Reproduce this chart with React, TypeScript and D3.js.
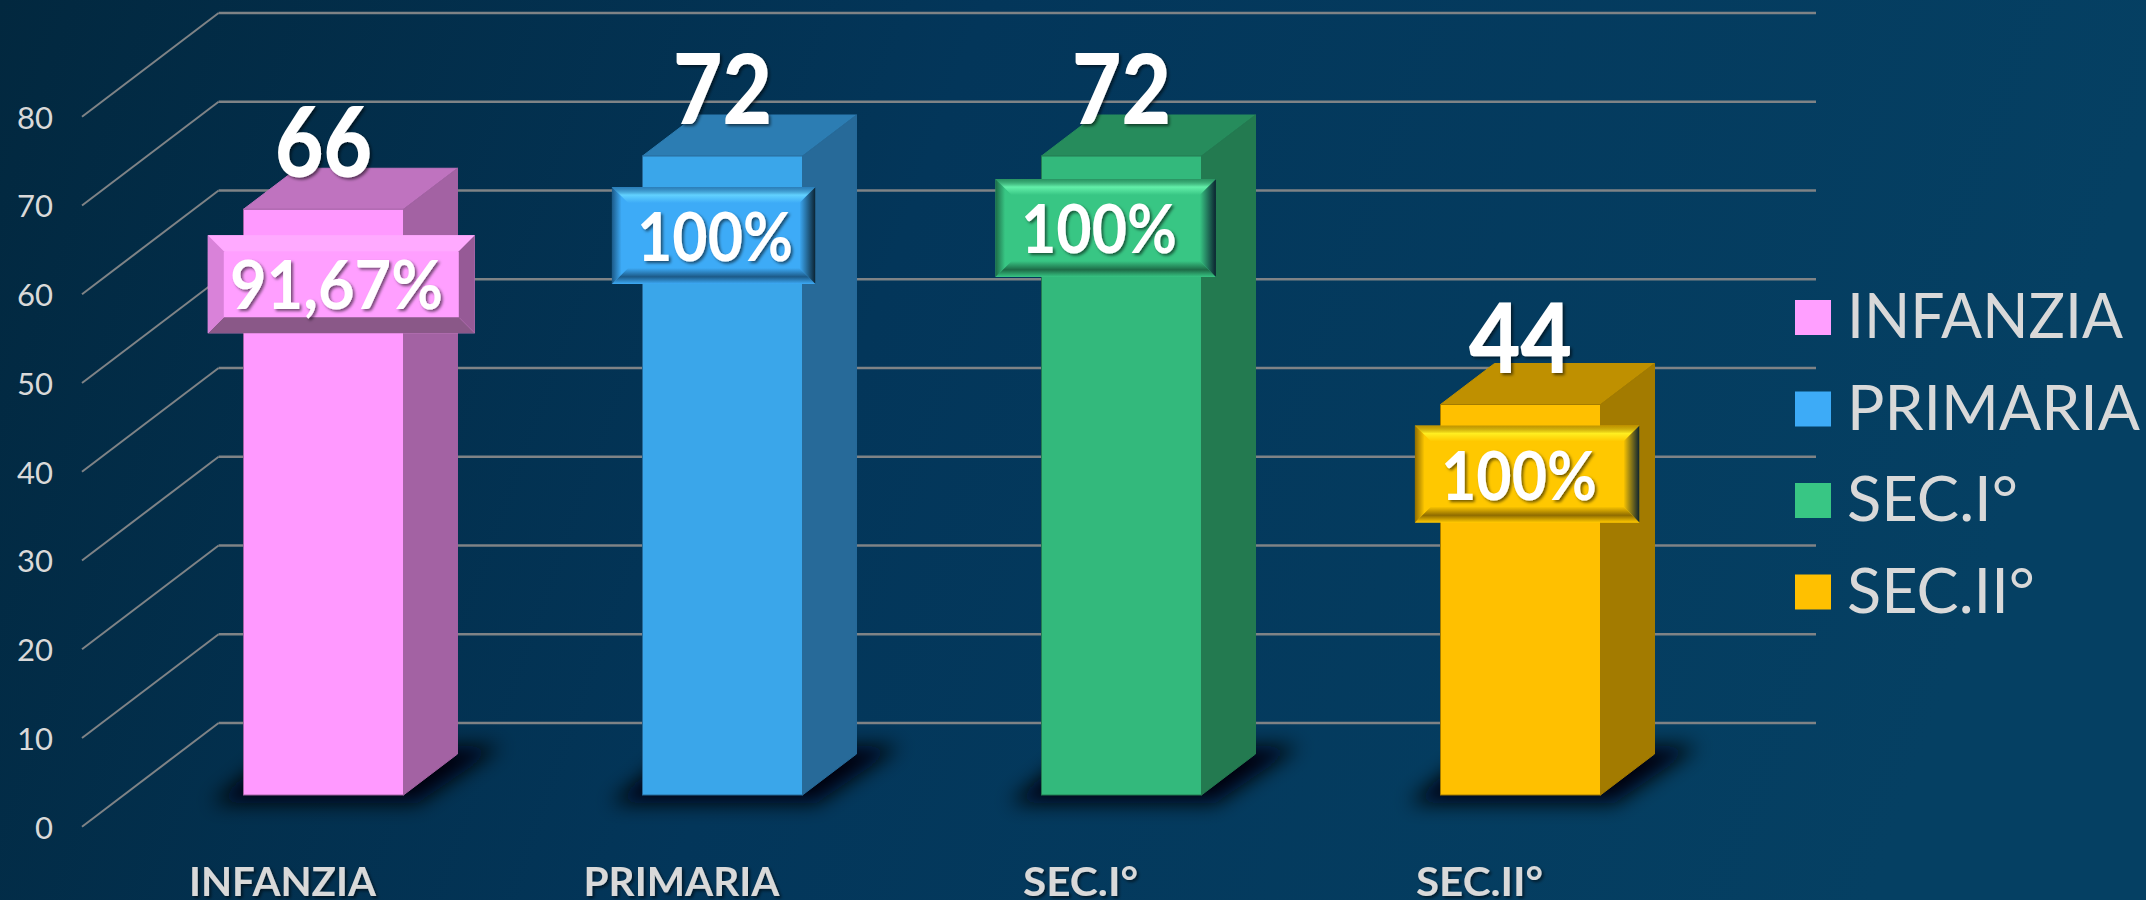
import React from 'react';
import * as d3 from 'd3';

const categories = ['INFANZIA', 'PRIMARIA', 'SEC.I°', 'SEC.II°'];
const values = [66, 72, 72, 44];
const percentLabels = ['91,67%', '100%', '100%', '100%'];
const yTicks = [0, 10, 20, 30, 40, 50, 60, 70, 80];

const frontColors = ['#ff99ff', '#3aa6ea', '#33b97c', '#ffc000'];
const sideColors = ['#a362a3', '#276a99', '#237a50', '#a37b00'];
const topColors = ['#bf73bf', '#2c7db3', '#268c5c', '#bf9000'];
const badgeColors = ['#ff9fff', '#3dabf7', '#38c684', '#ffc800'];
const glossColors = ['#ffaaff', '#62d2ff', '#64f0aa', '#ffee20'];
const darkColors = ['#8a5888', '#1c5a88', '#1d6b47', '#8f6c00'];
const legendColors = ['#ff9fff', '#3dabf7', '#38c684', '#ffc000'];

// badges were moved by hand in the original, so each has its own nudge
const badgeNudge = [
  { dx: 17.8, dy: 26, w: 267, h: 98, tx: 13, tw: 213 },
  { dx: -8.8, dy: 31, w: 203.5, h: 97, tx: -7.5, tw: 156 },
  { dx: -15.8, dy: 23, w: 220.5, h: 98, tx: -22.5, tw: 156 },
  { dx: 6.7, dy: 21, w: 224.5, h: 97, tx: -1.5, tw: 156 },
];
const valueWidths = [97, 99, 99, 103];
const axisWidths = [187, 196, 115, 127];
const legendWidths = [276, 293, 171, 188];

const WIDTH = 2146;
const HEIGHT = 900;
const DEPTH_X = 54;
const DEPTH_Y = 41;
const FONT = 'Lato, "Open Sans", sans-serif';

const x = d3.scaleBand<string>().domain(categories).range([243.5, 1600.5]).paddingInner(0.599).paddingOuter(0);
const y = d3.scaleLinear().domain([0, 80]).range([795, 85]);
const wallX0 = 218.6;
const wallX1 = 1816;
const wallY = (v: number) => y(v) - 72;
const floorY = (v: number) => y(v) + 31.7;
const floorX = 82;

const poly = d3.line<[number, number]>().curve(d3.curveLinearClosed);

const App = () => {
  const bw = x.bandwidth();
  const base = y(0);

  return (
    <svg
      width={WIDTH}
      height={HEIGHT}
      viewBox={`0 0 ${WIDTH} ${HEIGHT}`}
      style={{ position: 'fixed', left: 0, top: 0, display: 'block' }}
      fontFamily={FONT}
    >
      <defs>
        <linearGradient id="bg" x1="0" x2="1" y1="0" y2="0.15">
          <stop offset="0%" stopColor="#02283f" />
          <stop offset="45%" stopColor="#03365a" />
          <stop offset="100%" stopColor="#054063" />
        </linearGradient>
        <filter id="blur" x="-40%" y="-80%" width="180%" height="260%">
          <feGaussianBlur stdDeviation="10" />
        </filter>
        <filter id="txt" x="-10%" y="-10%" width="120%" height="120%">
          <feDropShadow dx="2" dy="2" stdDeviation="1.5" floodColor="#000" floodOpacity="0.55" />
        </filter>
        {categories.map((_, i) => (
          <g key={i}>
            <linearGradient id={`bt${i}`} x1="0" x2="0" y1="0" y2="1">
              <stop offset="0%" stopColor={i === 0 ? glossColors[i] : darkColors[i]} stopOpacity={i === 0 ? 1 : 0.55} />
              <stop offset="50%" stopColor={glossColors[i]} />
              <stop offset="100%" stopColor={i === 0 ? glossColors[i] : badgeColors[i]} />
            </linearGradient>
            <linearGradient id={`bb${i}`} x1="0" x2="0" y1="0" y2="1">
              <stop offset="0%" stopColor={i === 0 ? darkColors[i] : badgeColors[i]} />
              <stop offset="55%" stopColor={darkColors[i]} />
              <stop offset="100%" stopColor={i === 0 ? darkColors[i] : badgeColors[i]} />
            </linearGradient>
            <linearGradient id={`bl${i}`} x1="0" x2="1" y1="0" y2="0">
              <stop offset="0%" stopColor={i === 0 ? '#d982d9' : darkColors[i]} />
              <stop offset="60%" stopColor={i === 0 ? '#d982d9' : badgeColors[i]} />
            </linearGradient>
            <linearGradient id={`br${i}`} x1="0" x2="1" y1="0" y2="0">
              <stop offset="0%" stopColor={i === 0 ? '#965a96' : badgeColors[i]} />
              <stop offset="100%" stopColor={i === 0 ? '#965a96' : '#0b2230'} />
            </linearGradient>
          </g>
        ))}
      </defs>

      <rect width={WIDTH} height={HEIGHT} fill="url(#bg)" />

      {/* wall and floor grid */}
      <g fill="none" stroke="#7f8386">
        {yTicks.map(t => (
          <g key={t}>
            <line x1={wallX0} x2={wallX1} y1={wallY(t)} y2={wallY(t)} strokeWidth={2.5} />
            <line x1={floorX} x2={wallX0} y1={floorY(t)} y2={wallY(t)} strokeWidth={2} />
          </g>
        ))}
      </g>

      {yTicks.map(t => (
        <text key={t} x={53} y={floorY(t) + 12} textAnchor="end" fontSize={31} fontWeight={400} fill="#d9d9d9">
          {t}
        </text>
      ))}

      {/* floor shadows */}
      {categories.map(c => {
        const x0 = x(c)!;
        return (
          <path
            key={c}
            d={poly([
              [x0 - 32, base + 8],
              [x0 + bw + 14, base + 8],
              [x0 + bw + DEPTH_X + 44, base - DEPTH_Y - 8],
              [x0 + 40, base - DEPTH_Y - 8],
            ]) as string}
            fill="#00060c"
            filter="url(#blur)"
          />
        );
      })}

      {/* 3d bars */}
      {categories.map((c, i) => {
        const x0 = x(c)!;
        const x1 = x0 + bw;
        const top = y(values[i]);
        return (
          <g key={c} stroke={sideColors[i]} strokeWidth={1}>
            <path
              d={poly([[x0, top], [x1, top], [x1 + DEPTH_X, top - DEPTH_Y], [x0 + DEPTH_X, top - DEPTH_Y]]) as string}
              fill={topColors[i]}
              stroke={topColors[i]}
            />
            <path
              d={poly([[x1, top], [x1 + DEPTH_X, top - DEPTH_Y], [x1 + DEPTH_X, base - DEPTH_Y], [x1, base]]) as string}
              fill={sideColors[i]}
            />
            <rect x={x0} y={top} width={bw} height={base - top} fill={frontColors[i]} />
          </g>
        );
      })}

      {/* percent badges */}
      {categories.map((c, i) => {
        const n = badgeNudge[i];
        const cx = x(c)! + bw / 2;
        const left = cx + n.dx - n.w / 2;
        const right = left + n.w;
        const t = y(values[i]) + n.dy;
        const b = t + n.h;
        const bevelX = 16;
        const bevelY = 16;
        return (
          <g key={c}>
            <rect x={left} y={t} width={n.w} height={n.h} fill={badgeColors[i]} />
            <path d={poly([[left, t], [right, t], [right - bevelX, t + bevelY], [left + bevelX, t + bevelY]]) as string} fill={`url(#bt${i})`} />
            <path d={poly([[left, b], [right, b], [right - bevelX, b - bevelY], [left + bevelX, b - bevelY]]) as string} fill={`url(#bb${i})`} />
            <path d={poly([[left, t], [left + bevelX, t + bevelY], [left + bevelX, b - bevelY], [left, b]]) as string} fill={`url(#bl${i})`} />
            <path d={poly([[right, t], [right - bevelX, t + bevelY], [right - bevelX, b - bevelY], [right, b]]) as string} fill={`url(#br${i})`} />
            <text
              x={cx + n.tx}
              y={t + 74}
              textAnchor="middle"
              fontSize={66}
              fontWeight={700}
              fill="#fff"
              textLength={n.tw}
              lengthAdjust="spacingAndGlyphs"
              filter="url(#txt)"
            >
              {percentLabels[i]}
            </text>
          </g>
        );
      })}

      {/* values above the bars */}
      {categories.map((c, i) => (
        <text
          key={c}
          x={x(c)! + bw / 2}
          y={y(values[i]) - 32}
          textAnchor="middle"
          fontSize={98}
          fontWeight={900}
          fill="#fff"
          textLength={valueWidths[i]}
          lengthAdjust="spacingAndGlyphs"
          filter="url(#txt)"
        >
          {values[i]}
        </text>
      ))}

      {/* category labels */}
      {categories.map((c, i) => (
        <text
          key={c}
          x={x(c)! + bw / 2 - 41}
          y={896}
          textAnchor="middle"
          fontSize={41}
          fontWeight={700}
          fill="#d9d9d9"
          textLength={axisWidths[i]}
          lengthAdjust="spacingAndGlyphs"
          filter="url(#txt)"
        >
          {c}
        </text>
      ))}

      {/* legend */}
      {categories.map((c, i) => {
        const rowY = 338 + i * 91.5;
        return (
          <g key={c}>
            <rect x={1795} y={rowY - 38} width={36} height={35} fill={legendColors[i]} />
            <text
              x={1847}
              y={rowY}
              fontSize={62}
              fontWeight={400}
              fill="#d9d9d9"
              textLength={legendWidths[i]}
              lengthAdjust="spacingAndGlyphs"
            >
              {c}
            </text>
          </g>
        );
      })}
    </svg>
  );
};

export default App;
